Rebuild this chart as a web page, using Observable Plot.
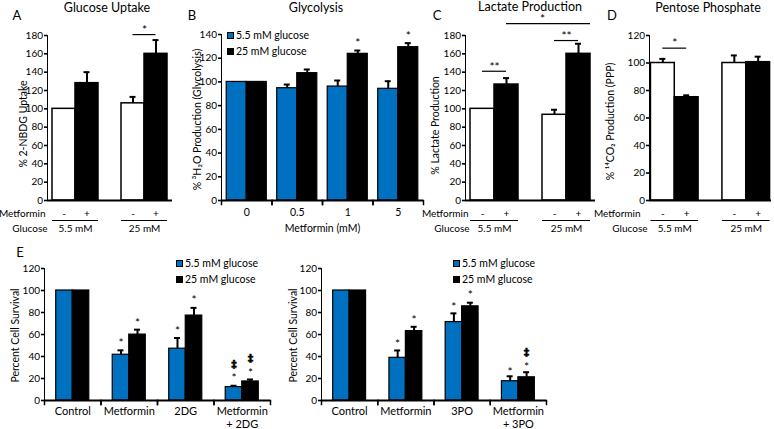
<!DOCTYPE html>
<html>
<head>
<meta charset="utf-8">
<script src="https://cdn.jsdelivr.net/npm/d3@7"></script>
<script src="https://cdn.jsdelivr.net/npm/@observablehq/plot@0.6"></script>
<style>
html,body{margin:0;padding:0;background:#fff;}
#root{position:relative;width:774px;height:429px;overflow:hidden;font-family:Lato,"Open Sans",sans-serif;color:#000;}
#root > div{position:absolute;}
.lbl{white-space:nowrap;line-height:1;transform:translate(-50%,-50%);}
.title{font-size:12.5px;}
.letter{font-size:13px;}
.legend{font-size:10.5px;line-height:1;white-space:nowrap;}
.legend .row{display:flex;align-items:center;height:16px;}
.legend .sw{display:inline-block;width:7px;height:7px;border:1px solid #000;margin-right:2px;box-sizing:border-box;}
svg g[aria-label^="y-axis"]{stroke-width:1.6px;}
</style>
</head>
<body>
<div id="root"></div>
<script>
// ---------- shared categories ----------
const glucoseLevels = ["5.5 mM", "25 mM"];
const metforminLevels = ["-", "+"];
const series = ["5.5 mM glucose", "25 mM glucose"];

// ---------- A: Glucose uptake (order 5.5-, 5.5+, 25-, 25+) ----------
const uptakeMean = [100, 128, 106, 160];
const uptakeErr  = [0, 12, 7, 15];
const uptakeTicks = [0, 20, 40, 60, 80, 100, 120, 140, 160, 180];
const uptakeBrackets = [{from: "25 mM|-", to: "25 mM|+", y: 181, label: "*", labelAt: "25 mM|+"}];

// ---------- B: Glycolysis ----------
const doses = ["0", "0.5", "1", "5"];
const glyLow = [100, 94.7, 96.1, 94.2];
const glyLowErr = [0, 3.1, 5.1, 6.4];
const glyHigh = [100, 107.4, 123.7, 129.3];
const glyHighErr = [0, 3.1, 2.8, 3.4];
const glyTicks = [0, 20, 40, 60, 80, 100, 120, 140];
const glyStars = [
  {cat: "1", s: "25 mM glucose", y: 135, label: "*"},
  {cat: "5", s: "25 mM glucose", y: 141.4, label: "*"}
];

// ---------- C: Lactate production ----------
const lactateMean = [100, 126.5, 93.5, 160];
const lactateErr  = [0, 7, 5.5, 11];
const lactateTicks = [0, 20, 40, 60, 80, 100, 120, 140, 160, 180];
const lactateBrackets = [
  {from: "5.5 mM|-", to: "5.5 mM|+", y: 141, label: "**", labelAt: "5.5 mM|+"},
  {from: "25 mM|-", to: "25 mM|+", y: 174.5, label: "**", labelAt: "25 mM|+"},
  {from: "5.5 mM|+", to: "25 mM|+", y: 193, label: "*", labelAt: "25 mM|-", toEnd: true}
];

// ---------- D: Pentose phosphate ----------
const pppMean = [100, 75.1, 100, 100.6];
const pppErr  = [3, 1.4, 5.5, 4];
const pppTicks = [0, 20, 40, 60, 80, 100, 120];
const pppBrackets = [{from: "5.5 mM|-", to: "5.5 mM|+", y: 110.8, label: "*", labelAt: "5.5 mM|+"}];

// ---------- E: Cell survival ----------
const survTicks = [0, 20, 40, 60, 80, 100, 120];
const cats2DG = ["Control", "Metformin", "2DG", "Metformin\n+ 2DG"];
const surv2DGLow = [100, 41.6, 47.1, 12.2];
const surv2DGLowErr = [0, 4, 9.7, 1.2];
const surv2DGHigh = [100, 59.9, 77.2, 17.3];
const surv2DGHighErr = [0, 4.5, 7, 1.8];
const stars2DG = [
  {cat: "Metformin", s: "5.5 mM glucose", y: 54.7, label: "*"},
  {cat: "Metformin", s: "25 mM glucose", y: 73, label: "*"},
  {cat: "2DG", s: "5.5 mM glucose", y: 66, label: "*"},
  {cat: "2DG", s: "25 mM glucose", y: 94, label: "*"},
  {cat: "Metformin\n+ 2DG", s: "5.5 mM glucose", y: 22.8, label: "*"},
  {cat: "Metformin\n+ 2DG", s: "5.5 mM glucose", y: 32.8, label: "‡"},
  {cat: "Metformin\n+ 2DG", s: "25 mM glucose", y: 28, label: "*"},
  {cat: "Metformin\n+ 2DG", s: "25 mM glucose", y: 38, label: "‡"}
];
const cats3PO = ["Control", "Metformin", "3PO", "Metformin\n+ 3PO"];
const surv3POLow = [100, 38.8, 71.3, 17.5];
const surv3POLowErr = [0, 6.7, 7.9, 4.5];
const surv3POHigh = [100, 63.1, 85.6, 21.1];
const surv3POHighErr = [0, 3.9, 3.3, 4.6];
const stars3PO = [
  {cat: "Metformin", s: "5.5 mM glucose", y: 54, label: "*"},
  {cat: "Metformin", s: "25 mM glucose", y: 75.9, label: "*"},
  {cat: "3PO", s: "5.5 mM glucose", y: 87.4, label: "*"},
  {cat: "3PO", s: "25 mM glucose", y: 98.9, label: "*"},
  {cat: "Metformin\n+ 3PO", s: "5.5 mM glucose", y: 28.7, label: "*"},
  {cat: "Metformin\n+ 3PO", s: "25 mM glucose", y: 33.2, label: "*"},
  {cat: "Metformin\n+ 3PO", s: "25 mM glucose", y: 43.8, label: "‡"}
];

// ---------- rendering ----------
const FONT = "Lato, 'Open Sans', sans-serif";
const BLUE = "#0070c0";
const STYLE = {fontFamily: FONT, fontSize: "10px", color: "#000", background: "transparent", overflow: "visible", maxWidth: "none"};
const root = document.getElementById("root");
const MID = {textAnchor: "middle", lineAnchor: "middle", fill: "black"};
const Y_AXIS = {tickSize: 3, tickPadding: 1.5, line: true, label: null};

function addText(cls, text, x, y) {
  const d = document.createElement("div");
  d.className = "lbl " + cls;
  d.textContent = text;
  d.style.left = x + "px"; d.style.top = y + "px";
  root.append(d);
}
function mount(svg, left, top, width, height) {
  const d = document.createElement("div");
  d.style.left = left + "px"; d.style.top = top + "px";
  d.style.width = width + "px"; d.style.height = height + "px";
  d.append(svg); root.append(d);
}
function addLegend(x, y) {
  const d = document.createElement("div");
  d.className = "legend";
  d.style.left = x + "px"; d.style.top = y + "px";
  d.innerHTML = series.map((s, i) =>
    `<div class="row"><span class="sw" style="background:${[BLUE, "#000"][i]}"></span>${s}</div>`).join("");
  root.append(d);
}

function pairedPanel(cfg) {
  const {left, top, width, height, ml, mr, mt, mb, po, yMax, yTicks, mean, err, brackets,
         ylabel, ylabelDx, ylabelDy, metDx, gluDx} = cfg;
  const GAP = "gap";
  const keys = [], rows = [];
  glucoseLevels.forEach((g, gi) => {
    if (gi > 0) keys.push(GAP);
    metforminLevels.forEach((m, mi) => {
      const key = `${g}|${m}`;
      keys.push(key);
      rows.push({key, g, m, mean: mean[gi * 2 + mi], err: err[gi * 2 + mi]});
    });
  });
  const fw = width - ml - mr;
  const bw = fw / (keys.length + 2 * po);
  const capIn = (bw - 6) / 2;
  const withErr = rows.filter(d => d.err > 0);
  const svg = Plot.plot({
    width, height, marginLeft: ml, marginRight: mr, marginTop: mt, marginBottom: mb,
    style: STYLE,
    x: {type: "band", domain: keys, paddingInner: 0, paddingOuter: po, align: 0.5, round: false, axis: null},
    y: {domain: [0, yMax], ticks: yTicks, ...Y_AXIS},
    marks: [
      Plot.barY(rows.filter(d => d.m === "-"), {x: "key", y: "mean", fill: "white", stroke: "black", strokeWidth: 1.5}),
      Plot.barY(rows.filter(d => d.m === "+"), {x: "key", y: "mean", fill: "black", stroke: "black", strokeWidth: 1.5}),
      Plot.ruleX(withErr, {x: "key", y1: "mean", y2: d => d.mean + d.err, strokeWidth: 2}),
      Plot.tickY(withErr, {x: "key", y: d => d.mean + d.err, strokeWidth: 2, insetLeft: capIn, insetRight: capIn}),
      Plot.ruleY([0], {strokeWidth: 1.8}),
      Plot.text(rows, {...MID, x: "key", text: "m", frameAnchor: "bottom", dy: 13, fontSize: 10}),
      Plot.ruleY(glucoseLevels, {x1: g => `${g}|-`, x2: g => `${g}|+`, y: () => 0, dy: 20, strokeWidth: 1.2}),
      Plot.text(glucoseLevels, {...MID, x: g => `${g}|-`, dx: bw / 2, frameAnchor: "bottom", dy: 28, fontSize: 10}),
      Plot.text(["Metformin"], {...MID, frameAnchor: "bottom-left", textAnchor: "end", dx: metDx, dy: 13, fontSize: 10}),
      Plot.text(["Glucose"], {...MID, frameAnchor: "bottom-left", textAnchor: "end", dx: gluDx, dy: 28, fontSize: 10}),
      Plot.ruleY(brackets.filter(b => !b.toEnd), {x1: "from", x2: "to", y: "y", insetLeft: bw / 2, insetRight: bw / 2, strokeWidth: 1.2}),
      Plot.ruleY(brackets.filter(b => b.toEnd), {x1: "from", x2: "to", y: "y", insetLeft: bw / 2, strokeWidth: 1.2}),
      Plot.text(brackets, {...MID, x: "labelAt", y: "y", text: "label", dx: -bw / 2, dy: -4.5, fontSize: 12}),
      Plot.text([ylabel], {...MID, frameAnchor: "left", rotate: -90, dx: ylabelDx, dy: ylabelDy, fontSize: 10.5})
    ]
  });
  mount(svg, left, top, width, height);
}

function groupedPanel(cfg) {
  const {left, top, width, height, ml, mr, mt, mb, cats, low, lowErr, high, highErr, po, yMax, yTicks,
         stars, ylabel, ylabelDx, ylabelDy, catFont, catDy, catLineAnchor, xTitle, xTitleAt, xTitleDy} = cfg;
  const rows = cats.flatMap((c, i) => [
    {cat: c, s: series[0], mean: low[i], err: lowErr[i]},
    {cat: c, s: series[1], mean: high[i], err: highErr[i]}
  ]);
  const facetW = (width - ml - mr) / cats.length;
  const bw = facetW / (2 + 2 * po);
  const capIn = (bw - 6) / 2;
  const innerH = height - mt - mb;
  const withErr = rows.filter(d => d.err > 0);
  const marks = [
    Plot.barY(rows, {fx: "cat", x: "s", y: "mean", fill: "s", stroke: "black", strokeWidth: 1.2}),
    Plot.ruleX(withErr, {fx: "cat", x: "s", y1: "mean", y2: d => d.mean + d.err, strokeWidth: 2}),
    Plot.tickY(withErr, {fx: "cat", x: "s", y: d => d.mean + d.err, strokeWidth: 2, insetLeft: capIn, insetRight: capIn}),
    Plot.ruleY([0], {strokeWidth: 1.8}),
    Plot.frame({anchor: "left", insetTop: innerH, insetBottom: -4, strokeWidth: 1.5}),
    Plot.frame({anchor: "right", insetTop: innerH, insetBottom: -4, strokeWidth: 1.5}),
    Plot.text(cats, {...MID, fx: d => d, frameAnchor: "bottom", dy: catDy, lineAnchor: catLineAnchor, lineHeight: 1.12, fontSize: catFont}),
    Plot.text(stars.filter(d => d.label === "*"), {...MID, fx: "cat", x: "s", y: "y", text: "label", dy: 3, fontSize: 12}),
    Plot.text(stars.filter(d => d.label !== "*"), {...MID, fx: "cat", x: "s", y: "y", text: "label", fontSize: 11,
      fontFamily: "DejaVu Sans", fontWeight: "bold", stroke: "black", strokeWidth: 0.4}),
    Plot.text([ylabel], {...MID, fx: () => cats[0], frameAnchor: "left", rotate: -90, dx: ylabelDx, dy: ylabelDy, fontSize: 10.5})
  ];
  if (xTitle) marks.push(Plot.text([xTitle], {...MID, fx: () => xTitleAt, frameAnchor: "bottom-left", dy: xTitleDy, fontSize: 10.5}));
  const svg = Plot.plot({
    width, height, marginLeft: ml, marginRight: mr, marginTop: mt, marginBottom: mb,
    style: STYLE,
    fx: {domain: cats, padding: 0, round: false, axis: null, label: null},
    x: {domain: series, paddingInner: 0, paddingOuter: po, round: false, axis: null},
    y: {domain: [0, yMax], ticks: yTicks, ...Y_AXIS},
    color: {domain: series, range: [BLUE, "black"]},
    marks
  });
  mount(svg, left, top, width, height);
}

// A
pairedPanel({left: 0, top: 25, width: 185, height: 215, ml: 47, mr: 13, mt: 10, mb: 40, po: 0.217,
  yMax: 180, yTicks: uptakeTicks, mean: uptakeMean, err: uptakeErr, brackets: uptakeBrackets,
  ylabel: "% 2-NBDG Uptake", ylabelDx: -24, ylabelDy: 6, metDx: -2, gluDx: 0});
// B
groupedPanel({left: 185, top: 0, width: 250, height: 240, ml: 36, mr: 12, mt: 34, mb: 40,
  cats: doses, low: glyLow, lowErr: glyLowErr, high: glyHigh, highErr: glyHighErr, po: 0.26,
  yMax: 140, yTicks: glyTicks, stars: glyStars, ylabel: "% ³H₂O Production (Glycolysis)", ylabelDx: -24, ylabelDy: 2,
  catFont: 10.5, catDy: 12, catLineAnchor: "middle", xTitle: "Metformin (mM)", xTitleAt: "1", xTitleDy: 28});
// C
pairedPanel({left: 420, top: 0, width: 180, height: 240, ml: 45, mr: 5, mt: 35, mb: 40, po: 0.208,
  yMax: 180, yTicks: lactateTicks, mean: lactateMean, err: lactateErr, brackets: lactateBrackets,
  ylabel: "% Lactate Production", ylabelDx: -30, ylabelDy: 7.5, metDx: 3, gluDx: 4});
// D
pairedPanel({left: 600, top: 0, width: 174, height: 240, ml: 49, mr: 3, mt: 35, mb: 40, po: 0.06,
  yMax: 120, yTicks: pppTicks, mean: pppMean, err: pppErr, brackets: pppBrackets,
  ylabel: "% ¹⁴CO₂ Production (PPP)", ylabelDx: -39, ylabelDy: 3.5, metDx: -9, gluDx: -2});
// E left
groupedPanel({left: 0, top: 240, width: 280, height: 189, ml: 44, mr: 10, mt: 28, mb: 29,
  cats: cats2DG, low: surv2DGLow, lowErr: surv2DGLowErr, high: surv2DGHigh, highErr: surv2DGHighErr, po: 0.71,
  yMax: 120, yTicks: survTicks, stars: stars2DG, ylabel: "Percent Cell Survival", ylabelDx: -29, ylabelDy: 1,
  catFont: 11, catDy: 6, catLineAnchor: "top"});
// E right
groupedPanel({left: 280, top: 240, width: 280, height: 189, ml: 41, mr: 14, mt: 28, mb: 29,
  cats: cats3PO, low: surv3POLow, lowErr: surv3POLowErr, high: surv3POHigh, highErr: surv3POHighErr, po: 0.71,
  yMax: 120, yTicks: survTicks, stars: stars3PO, ylabel: "Percent Cell Survival", ylabelDx: -28, ylabelDy: 1,
  catFont: 11, catDy: 6, catLineAnchor: "top"});

// legends
addLegend(227, 27.5);
addLegend(176, 255.5);
addLegend(453, 255.5);

// titles and panel letters
addText("title", "Glucose Uptake", 107, 8);
addText("title", "Glycolysis", 316, 8);
addText("title", "Lactate Production", 530, 7);
addText("title", "Pentose Phosphate", 708, 8);
addText("letter", "A", 17, 15);
addText("letter", "B", 192, 15);
addText("letter", "C", 437, 15);
addText("letter", "D", 612, 15);
addText("letter", "E", 20, 252);
</script>
</body>
</html>
